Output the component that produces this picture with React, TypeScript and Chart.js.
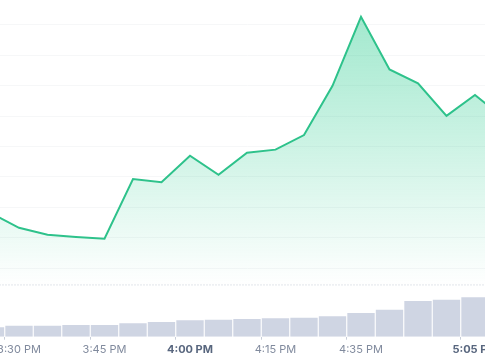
import React, { useEffect, useRef } from 'react';
import { Chart, registerables } from 'chart.js';

Chart.register(...registerables);

// x categories (only some carry a visible label)
const tickLabels = ['', '3:30 PM', '', '', '3:45 PM', '', '', '4:00 PM', '', '', '4:15 PM', '', '', '4:35 PM', '', '', '', '5:05 PM', ''];
const boldLabels = ['4:00 PM', '5:05 PM'];

// price series
const prices = [1.2182, 1.2133, 1.211, 1.2103, 1.2097, 1.2293, 1.2283, 1.237, 1.2307, 1.238, 1.239, 1.2438, 1.26, 1.2827, 1.2654, 1.2608, 1.2501, 1.257, 1.2494];
// volume series
const volumes = [4.7, 5.5, 5.5, 5.85, 5.85, 6.7, 7.35, 8.2, 8.5, 8.85, 9.2, 9.5, 10.2, 11.85, 13.5, 17.85, 18.5, 19.7, 20.2];

const referencePrice = 1.1945;
const priceGrid = [1.2, 1.21, 1.22, 1.23, 1.24, 1.25, 1.26, 1.27, 1.28];
const priceMin = 1.17747;
const priceMax = 1.28822;
const volumeMax = 168.35;

export default function App() {
  const ref = useRef<HTMLCanvasElement | null>(null);

  useEffect(() => {
    if (!ref.current) return;
    const chart = new Chart(ref.current, {
      type: 'bar',
      data: {
        labels: tickLabels,
        datasets: [
          {
            type: 'line',
            label: 'Price',
            data: prices,
            yAxisID: 'y',
            borderColor: '#2ec28b',
            borderWidth: 2,
            pointRadius: 0,
            tension: 0,
            fill: { value: referencePrice },
            backgroundColor: (c: any) => {
              const ch = c.chart;
              const area = ch.chartArea;
              if (!area) return 'rgba(22,199,132,0.2)';
              const yb = ch.scales.y.getPixelForValue(referencePrice);
              const g = ch.ctx.createLinearGradient(0, area.top, 0, yb);
              g.addColorStop(0, 'rgba(22,199,132,0.42)');
              g.addColorStop(0.5, 'rgba(22,199,132,0.22)');
              g.addColorStop(1, 'rgba(22,199,132,0)');
              return g;
            },
            order: 0,
          } as any,
          {
            type: 'line',
            label: 'Reference',
            data: tickLabels.map(() => referencePrice),
            yAxisID: 'y',
            borderColor: '#c3c9d4',
            borderWidth: 1,
            borderDash: [1, 2],
            pointRadius: 0,
            fill: false,
            order: 1,
          } as any,
          {
            type: 'bar',
            label: 'Volume',
            data: volumes,
            yAxisID: 'y1',
            backgroundColor: 'rgb(207,213,227)',
            barPercentage: 0.96,
            categoryPercentage: 1,
            order: 2,
          } as any,
        ],
      },
      options: {
        animation: false,
        responsive: false,
        maintainAspectRatio: false,
        layout: { padding: { left: 10.5, right: 16.5, top: 0, bottom: 0 } },
        plugins: { legend: { display: false }, tooltip: { enabled: false } },
        scales: {
          x: {
            offset: false,
            border: { display: false },
            grid: {
              drawOnChartArea: false,
              drawTicks: true,
              tickLength: 3,
              tickColor: (c: any) => (c.tick && c.tick.label ? '#c8ced9' : 'rgba(0,0,0,0)'),
            },
            ticks: {
              autoSkip: false,
              maxRotation: 0,
              padding: 3,
              font: (c: any) => ({
                family: 'Inter',
                size: 11,
                weight: c.tick && boldLabels.includes(c.tick.label) ? 'bold' : 'normal',
              }),
              color: (c: any) => (c.tick && boldLabels.includes(c.tick.label) ? '#58667e' : '#808a9d'),
            },
            afterFit: (axis: any) => {
              axis.height = 23.3;
            },
          },
          y: {
            position: 'left',
            min: priceMin,
            max: priceMax,
            border: { display: false },
            grid: { color: '#f6f7f8', drawTicks: false },
            ticks: { display: false },
            afterBuildTicks: (axis: any) => {
              axis.ticks = priceGrid.map((v) => ({ value: v }));
            },
          },
          y1: {
            display: false,
            min: 0,
            max: volumeMax,
          },
        },
      } as any,
    });
    return () => chart.destroy();
  }, []);

  return (
    <div style={{ position: 'fixed', left: 0, top: 0, width: 485, height: 360, overflow: 'hidden', background: '#fff' }}>
      <canvas ref={ref} width={540} height={360} style={{ position: 'absolute', left: -20, top: 0, width: 540, height: 360 }} />
    </div>
  );
}
